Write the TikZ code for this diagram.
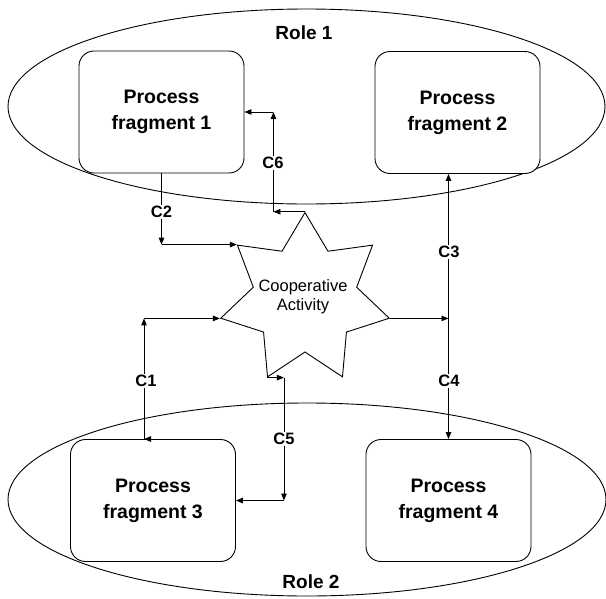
\documentclass[tikz,border=0pt]{standalone}
\usepackage{fontspec}
\setmainfont{Liberation Sans}
\usetikzlibrary{shapes.geometric,arrows.meta}
\begin{document}
\begin{tikzpicture}[x=1pt,y=-1pt,line width=0.9pt,
  rolebox/.style={draw,ellipse,inner sep=0pt},
  frag/.style={draw,fill=white,rounded corners=15pt,minimum width=165pt,minimum height=122pt,
    inner sep=0pt,font=\fontsize{19.5}{26}\selectfont\bfseries,align=center},
  coop/.style={draw,fill=white,star,star points=7,star point ratio=1.63,minimum size=172.8pt,
    inner sep=0pt},
  cooptext/.style={inner sep=0pt,font=\fontsize{16.5}{19}\selectfont,align=center},
  arr/.style={-{Triangle[length=7pt,width=5.5pt]}},
  conlbl/.style={fill=white,inner sep=1.5pt,font=\fontsize{16.5}{18}\selectfont\bfseries},
  roletitle/.style={font=\fontsize{19}{22}\selectfont\bfseries}]
\useasboundingbox (0,0) rectangle (606,598);
% roles
\node[rolebox,minimum width=597pt,minimum height=195pt] (role1) at (306.5,106.5) {};
\node[rolebox,minimum width=598pt,minimum height=193pt] (role2) at (307,499.5) {};
\node[roletitle] (r1t) at (304,33) {Role 1};
\node[roletitle] (r2t) at (311,582) {Role 2};
% fragments
\node[frag] (box1) at (161.5,112) {Process\\fragment 1};
\node[frag] (box2) at (457.5,112.5) {Process\\fragment 2};
\node[frag] (box3) at (153,500.5) {Process\\fragment 3};
\node[frag] (box4) at (448.5,500.5) {Process\\fragment 4};
% cooperative activity
\node[coop] (star) at (305,299) {};
\node[cooptext] (startext) at (303,297) {Cooperative\\Activity};
% C2
\coordinate (c2a) at (box1.south |- star.outer point 2);
\draw[arr] (box1.south) -- (c2a);
\draw[arr] (c2a) -- (star.outer point 2);
% C6
\path (box1.east) ++(29,0) coordinate (c6b);
\coordinate (c6a) at (c6b |- star.outer point 1);
\draw[arr] (star.outer point 1) -- (c6a);
\draw[arr] (c6a) -- (c6b);
\draw[arr] (c6b) -- (box1.east);
% C1
\path (box3.north) ++(-9,0) coordinate (c1b);
\coordinate (c1a) at (c1b |- star.outer point 3);
\path (c1b) ++(9,0) coordinate (c1c);
\draw[arr] (c1c) -- (c1b);
\draw[arr] (c1b) -- (c1a);
\draw[arr] (c1a) -- (star.outer point 3);
% C3 / C4
\coordinate (c34) at (box4.north |- star.outer point 6);
\draw[arr] (star.outer point 6) -- (c34);
\draw[arr] (c34) -- (box2.south -| c34);
\draw[arr] (c34) -- (box4.north);
% C5
\path (box3.east) ++(48,0) coordinate (c5b);
\coordinate (c5a) at (c5b |- star.outer point 4);
\draw[arr] (star.outer point 4) -- (c5a);
\draw[arr] (c5a) -- (c5b);
\draw[arr] (c5b) -- (box3.east);
% labels
\node[conlbl] (l1) at (146,381) {C1};
\node[conlbl] (l2) at (161.5,212) {C2};
\node[conlbl] (l3) at (449,252) {C3};
\node[conlbl] (l4) at (449,381) {C4};
\node[conlbl] (l5) at (284,439) {C5};
\node[conlbl] (l6) at (273,163) {C6};
\end{tikzpicture}
\end{document}
